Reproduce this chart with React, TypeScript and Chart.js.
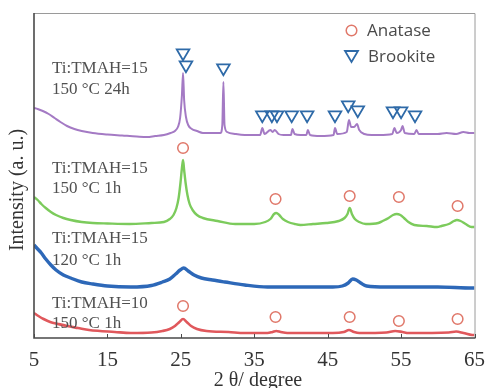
import React, { useEffect, useRef } from 'react';
import { Chart, registerables } from 'chart.js';
Chart.register(...registerables);

// 2θ (degree) and intensity (a.u., offset stacked)
const purpleX = [5, 5.5, 6.2, 7, 7.8, 8.6, 9.5, 10.5, 11.5, 13, 15, 17, 19, 20.4, 21.5, 22.7, 23.6, 24.2, 24.6, 24.9, 25.15, 25.3, 25.45, 25.7, 26.0, 26.5, 27.2, 28, 29.5, 30.4, 30.65, 30.8, 30.95, 31.3, 32.5, 33.7, 35.8, 36.1, 36.4, 37.2, 37.5, 37.8, 38.3, 39, 40.0, 40.2, 40.5, 41.3, 42.1, 42.3, 42.6, 44, 45.8, 46.0, 46.3, 47.6, 47.9, 48.2, 48.6, 49.0, 49.3, 50, 51, 52, 53.8, 54.1, 54.4, 55.0, 55.2, 55.5, 56.8, 57.1, 57.4, 58.5, 60, 61.2, 62.5, 63.5, 64.3, 65];
const purpleY = [230, 229, 227, 224, 220, 216, 212, 209, 207, 205, 203.5, 202.5, 201.5, 201, 202, 203, 205, 207, 211, 220, 243, 265, 238, 221, 213, 209, 207, 205, 205, 205, 213, 256, 213, 206, 204, 203, 203, 210, 204, 208, 206, 208, 204, 203, 203, 209, 204, 203, 203, 208, 203, 202, 203, 210, 204, 206, 218, 211, 211, 214, 208, 204, 203, 203, 204, 210, 205, 208, 212, 205, 204, 208, 204, 204, 204, 205, 204, 206, 205, 205];

const greenX = [5, 5.5, 6, 6.6, 7.3, 8, 9, 10, 11.5, 13, 15, 18, 21, 22.7, 23.5, 24.0, 24.4, 24.7, 24.95, 25.15, 25.3, 25.45, 25.65, 25.9, 26.2, 26.6, 27.2, 28, 30, 32.4, 35, 36.5, 37.2, 37.7, 38.0, 38.4, 38.9, 39.6, 40.5, 41.3, 43, 44.8, 46.5, 47.3, 47.7, 48.0, 48.3, 48.7, 49.3, 50.2, 51.9, 52.5, 53.3, 53.9, 54.4, 54.9, 55.4, 56, 56.8, 58.5, 59.9, 60.5, 61.5, 62.2, 62.6, 63.1, 63.8, 64.6, 65];
const greenY = [141, 138, 134, 130, 126, 123, 120, 118, 116, 115, 114.5, 114, 115, 116, 119, 123, 130, 140, 155, 170, 178, 168, 155, 143, 134, 128, 123, 120, 117, 114, 114, 116, 119, 124, 125, 123, 119, 116, 114, 113, 114, 115, 117, 120, 124, 130, 124, 119, 116, 114, 115, 117, 120, 123, 124, 123, 120, 116, 113, 112, 111, 112, 114, 117, 118, 117, 114, 111, 111];

const blueX = [5, 5.5, 6, 6.6, 7.3, 8, 9, 10, 11.5, 13, 15, 18.2, 21, 22.5, 23.5, 24.3, 24.9, 25.4, 26, 26.8, 27.8, 29.3, 31, 33.7, 36.8, 41.3, 45.7, 47, 47.8, 48.4, 48.9, 49.5, 50.3, 53, 56.7, 60, 64.7, 65];
const blueY = [93, 89, 85, 79, 73, 68, 63, 60, 56, 54, 52, 51, 52.5, 56, 59, 64, 68, 70, 67, 63, 60, 58, 56, 53, 51, 51, 51, 52, 55, 59, 58, 55, 52, 51, 51, 51, 50, 50];

const redX = [5, 5.6, 6.3, 7.2, 8.3, 9.5, 11, 12.5, 14, 16, 18.2, 21, 22.5, 23.5, 24.2, 24.8, 25.3, 25.8, 26.4, 27.2, 28.5, 31.5, 33.7, 36.8, 37.5, 38, 38.6, 39.5, 45.7, 47.2, 47.9, 48.6, 49.3, 53, 54.2, 55.2, 56, 61.5, 62.5, 63.5, 64.7, 65];
const redY = [25, 22, 19, 16, 14, 12, 10, 8, 7, 6, 5, 5.5, 7, 9, 12, 16, 19, 16, 12, 9, 7, 6, 5, 5, 6, 7, 6, 5, 5, 6, 8, 6, 5, 5.5, 7, 6, 5, 5.5, 6.5, 5, 3, 3];

const anataseX = [25.3, 37.9, 48.0, 54.7, 62.7, 25.3, 37.9, 48.0, 54.7, 62.7];
const anataseY = [190, 139, 142, 141, 132, 32, 21, 21, 17, 19];

const brookiteX = [25.3, 25.7, 30.8, 36.1, 37.4, 38.1, 40.1, 42.2, 46.0, 47.8, 49.1, 53.9, 55.0, 56.9];
const brookiteY = [285, 273, 270, 223, 223, 223, 223, 223, 223, 233, 228, 227, 227, 223];

const xTicks = [5, 15, 25, 35, 45, 55, 65];

const sampleLabels = [
  ['Ti:TMAH=15', '150 °C 24h'],
  ['Ti:TMAH=15', '150 °C 1h'],
  ['Ti:TMAH=15', '120 °C 1h'],
  ['Ti:TMAH=10', '150 °C 1h'],
];
const legendLabels = ['Anatase', 'Brookite'];

const toPts = (xs: number[], ys: number[]) => xs.map((x, i) => ({ x, y: ys[i] }));

export default function App() {
  const ref = useRef<HTMLCanvasElement | null>(null);
  useEffect(() => {
    if (!ref.current) return;
    const labelPos = [
      [73, 94],
      [173, 193],
      [243, 265],
      [308, 328],
    ];
    const deco = {
      id: 'deco',
      beforeDraw(chart: any) {
        const c = chart.ctx;
        c.save();
        c.fillStyle = '#ffffff';
        c.fillRect(0, 0, chart.width, chart.height);
        c.restore();
      },
      afterDraw(chart: any) {
        const c = chart.ctx;
        const a = chart.chartArea;
        const xs = chart.scales.x;
        c.save();
        // frame
        c.strokeStyle = '#9a9a9a';
        c.lineWidth = 1;
        c.beginPath();
        c.moveTo(a.left, a.top + 0.5);
        c.lineTo(a.right + 0.5, a.top + 0.5);
        c.lineTo(a.right + 0.5, a.bottom);
        c.stroke();
        c.strokeStyle = '#4a4a4a';
        c.lineWidth = 1.6;
        c.beginPath();
        c.moveTo(a.left, a.top);
        c.lineTo(a.left, a.bottom);
        c.lineTo(a.right + 1, a.bottom);
        c.stroke();
        // inward ticks
        c.lineWidth = 1;
        xTicks.forEach((t) => {
          const px = Math.round(xs.getPixelForValue(t)) + 0.5;
          c.beginPath();
          c.moveTo(px, a.bottom);
          c.lineTo(px, a.bottom - 4);
          c.stroke();
        });
        // sample labels
        c.fillStyle = '#505050';
        c.font = '17px "Liberation Serif", serif';
        c.textAlign = 'left';
        c.textBaseline = 'alphabetic';
        sampleLabels.forEach((lines, i) => {
          c.fillText(lines[0], 52, labelPos[i][0]);
          c.fillText(lines[1], 52, labelPos[i][1]);
        });
        // axis titles
        c.fillStyle = '#333333';
        c.font = '20px "Liberation Serif", serif';
        c.textAlign = 'center';
        c.textBaseline = 'middle';
        c.fillText('2 θ/ degree', 258, 381);
        c.translate(18, 190);
        c.rotate(-Math.PI / 2);
        c.fillText('Intensity (a. u.)', 0, 0);
        c.setTransform(1, 0, 0, 1, 0, 0);
        // legend
        c.lineWidth = 1.5;
        c.strokeStyle = '#e0786a';
        c.beginPath();
        c.arc(351.5, 30.5, 5.3, 0, Math.PI * 2);
        c.stroke();
        c.strokeStyle = '#2e6aa8';
        c.lineWidth = 1.8;
        c.beginPath();
        c.moveTo(345, 51);
        c.lineTo(358, 51);
        c.lineTo(351.5, 62);
        c.closePath();
        c.stroke();
        c.fillStyle = '#4a4a4a';
        c.font = '17px "Open Sans", sans-serif';
        c.textAlign = 'left';
        c.textBaseline = 'alphabetic';
        c.fillText(legendLabels[0], 367, 36);
        c.fillText(legendLabels[1], 368, 62);
        c.restore();
      },
    };
    const line = (data: any, color: string, w: number) => ({
      type: 'scatter',
      data,
      showLine: true,
      borderColor: color,
      backgroundColor: color,
      borderWidth: w,
      pointRadius: 0,
      cubicInterpolationMode: 'monotone',
    });
    const chart = new Chart(ref.current, {
      type: 'scatter',
      data: {
        datasets: [
          line(toPts(purpleX, purpleY), '#a47ac4', 2),
          line(toPts(greenX, greenY), '#7ccb5c', 2.4),
          line(toPts(blueX, blueY), '#2d68b8', 3.4),
          line(toPts(redX, redY), '#e0585c', 2.6),
          {
            type: 'scatter',
            data: toPts(anataseX, anataseY),
            pointStyle: 'circle',
            pointRadius: 5.3,
            borderColor: '#e0786a',
            backgroundColor: 'rgba(0,0,0,0)',
            borderWidth: 1.5,
          },
          {
            type: 'scatter',
            data: toPts(brookiteX, brookiteY),
            pointStyle: 'triangle',
            rotation: 180,
            pointRadius: 7.3,
            borderColor: '#2e6aa8',
            backgroundColor: 'rgba(0,0,0,0)',
            borderWidth: 1.8,
          },
        ] as any,
      },
      options: {
        animation: false,
        responsive: false,
        maintainAspectRatio: false,
        layout: { padding: { left: 34, right: 10, top: 13, bottom: 0 } },
        plugins: { legend: { display: false }, tooltip: { enabled: false } },
        scales: {
          x: {
            type: 'linear',
            min: 5,
            max: 65,
            afterBuildTicks: (s: any) => {
              s.ticks = xTicks.map((v) => ({ value: v }));
            },
            afterFit: (s: any) => {
              s.height = 50;
            },
            grid: { display: false, drawTicks: false },
            border: { display: false },
            ticks: {
              padding: 10,
              color: '#333333',
              font: { family: '"Liberation Serif", serif', size: 21 },
              maxRotation: 0,
              autoSkip: false,
            },
          },
          y: { type: 'linear', min: 0, max: 325, display: false },
        },
      } as any,
      plugins: [deco],
    });
    return () => chart.destroy();
  }, []);
  return (
    <div style={{ position: 'absolute', left: 0, top: 0, width: 495, height: 388 }}>
      <canvas ref={ref} width={495} height={388} style={{ display: 'block' }} />
    </div>
  );
}
